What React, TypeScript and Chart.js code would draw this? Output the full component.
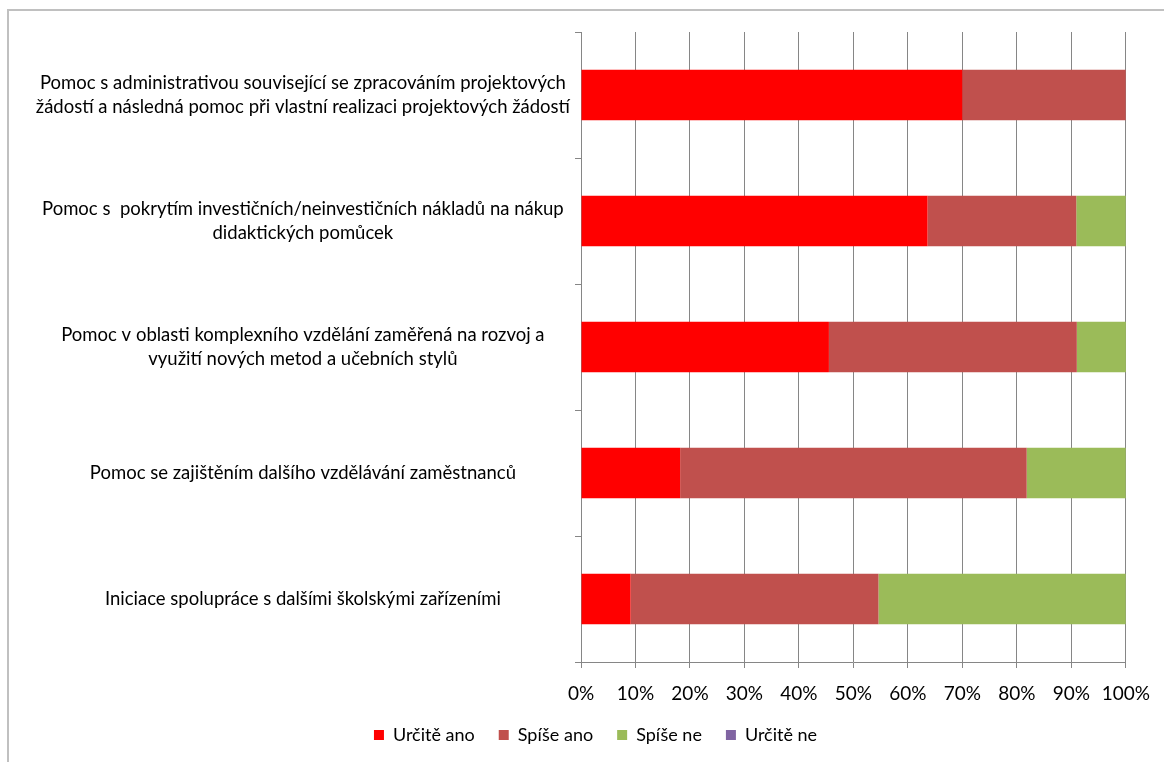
import React, { useEffect, useRef } from "react";
import { Chart, registerables } from "chart.js";

Chart.register(...registerables);

const categories: (string | string[])[] = [
  ["Pomoc s administrativou související se zpracováním projektových", "žádostí a následná pomoc při vlastní realizaci projektových žádostí"],
  ["Pomoc s  pokrytím investičních/neinvestičních nákladů na nákup", "didaktických pomůcek"],
  ["Pomoc v oblasti komplexního vzdělání zaměřená na rozvoj a", "využití nových metod a učebních stylů"],
  "Pomoc se zajištěním dalšího vzdělávání zaměstnanců",
  "Iniciace spolupráce s dalšími školskými zařízeními",
];

const seriesNames = ["Určitě ano", "Spíše ano", "Spíše ne", "Určitě ne"];
const urciteAno = [70, 63.6, 45.5, 18.2, 9.1];
const spiseAno = [30, 27.3, 45.5, 63.6, 45.5];
const spiseNe = [0, 9.1, 9.1, 18.2, 45.4];
const urciteNe = [0, 0, 0, 0, 0];
const seriesColors = ["#FF0000", "#C0504D", "#9BBB59", "#8064A2"];

const xTicks = [0, 10, 20, 30, 40, 50, 60, 70, 80, 90, 100];

const FONT = "Lato, 'Open Sans', sans-serif";

// Shifts the legend block a little to the right, as in the original layout
const legendShift = {
  id: "legendShift",
  afterLayout(chart: any) {
    const lg = chart.legend;
    if (lg) {
      lg.left += 22;
      lg.right += 22;
    }
  },
};

export default function App() {
  const ref = useRef<HTMLCanvasElement | null>(null);

  useEffect(() => {
    if (!ref.current) return;
    const values = [urciteAno, spiseAno, spiseNe, urciteNe];
    const chart = new Chart(ref.current, {
      type: "bar",
      data: {
        labels: categories,
        datasets: seriesNames.map((name, i) => ({
          label: name,
          data: values[i],
          backgroundColor: seriesColors[i],
          borderWidth: 0,
          barPercentage: 0.4,
          categoryPercentage: 1,
        })),
      },
      plugins: [legendShift],
      options: {
        animation: false,
        responsive: false,
        indexAxis: "y",
        layout: { padding: { top: 21, right: 36, left: 10, bottom: 8 } },
        scales: {
          x: {
            stacked: true,
            min: 0,
            max: 100,
            afterBuildTicks: (axis: any) => {
              axis.ticks = xTicks.map((v) => ({ value: v }));
            },
            afterFit: (axis: any) => {
              axis.height = 40;
            },
            ticks: {
              callback: (v: any) => v + "%",
              color: "#000",
              font: { family: FONT, size: 19 },
              padding: 14,
              maxRotation: 0,
            },
            grid: { color: "#868686", lineWidth: 1, tickLength: 6, drawTicks: true },
            border: { display: true, color: "#868686" },
          },
          y: {
            stacked: true,
            afterFit: (axis: any) => {
              axis.width = 562;
            },
            ticks: {
              crossAlign: "center",
              color: "#000",
              font: { family: FONT, size: 18.5, lineHeight: 1.3 },
              padding: 5,
              autoSkip: false,
            },
            grid: { drawOnChartArea: false, drawTicks: true, tickLength: 6, color: "#868686", offset: true },
            border: { display: true, color: "#868686" },
          },
        },
        plugins: {
          legend: {
            position: "bottom",
            labels: {
              boxWidth: 10,
              boxHeight: 10,
              padding: 24,
              color: "#000",
              font: { family: FONT, size: 18 },
            },
          },
          tooltip: { enabled: false },
        },
      },
    });
    return () => chart.destroy();
  }, []);

  return (
    <div
      style={{
        position: "absolute",
        left: 7,
        top: 9,
        width: 1155,
        height: 751,
        borderLeft: "2px solid #c0c0c0",
        borderTop: "2px solid #c0c0c0",
        background: "#fff",
      }}
    >
      <canvas ref={ref} width={1155} height={751} style={{ display: "block" }} />
    </div>
  );
}
